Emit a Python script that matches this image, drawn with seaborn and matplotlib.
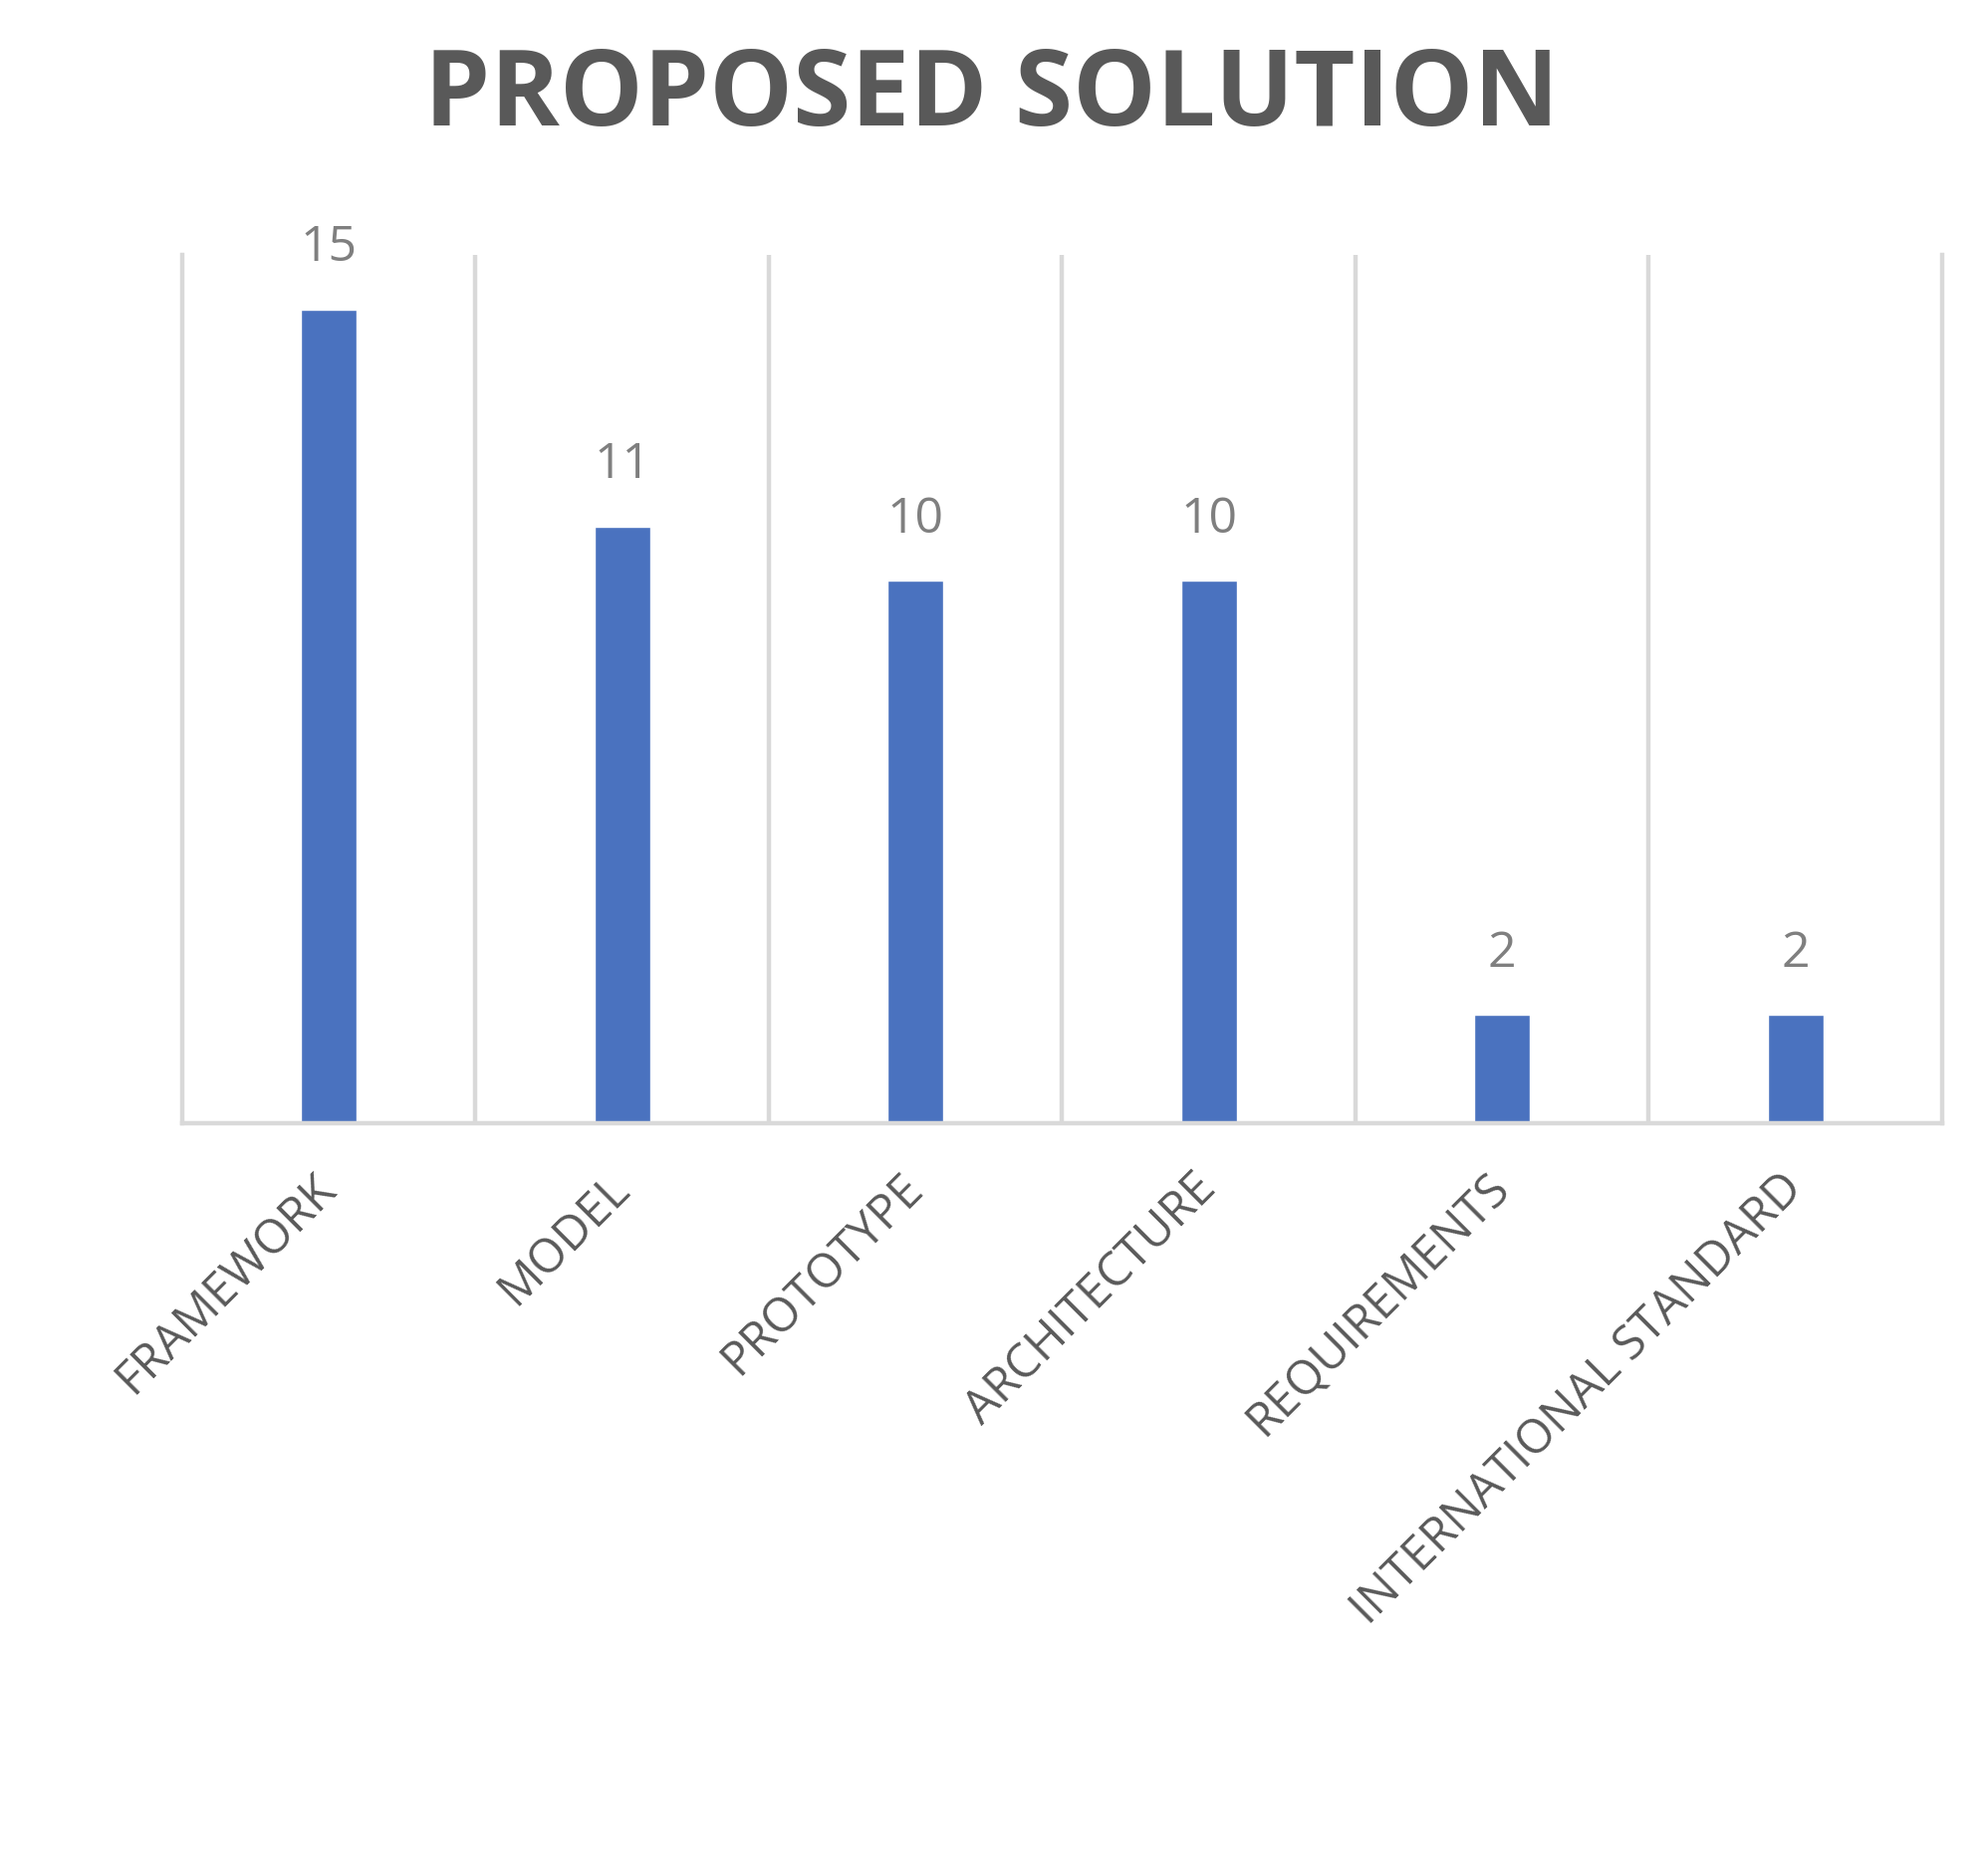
import matplotlib
matplotlib.use("Agg")
import matplotlib.pyplot as plt
import numpy as np
import pandas as pd
import seaborn as sns

# ── Data ──────────────────────────────────────────────────────────────────────
categories = ["FRAMEWORK", "MODEL", "PROTOTYPE", "ARCHITECTURE",
              "REQUIREMENTS", "INTERNATIONAL STANDARD"]
counts = [15, 11, 10, 10, 2, 2]
title = "PROPOSED SOLUTION"

# ── Style ─────────────────────────────────────────────────────────────────────
sns.set_theme(style="white")
plt.rcParams["font.family"] = ["Open Sans", "DejaVu Sans"]
BAR_BLUE = "#4A72BF"
GRID_GREY = "#D9D9D9"
TEXT_GREY = "#595959"
LABEL_GREY = "#7F7F7F"

df = pd.DataFrame({"category": categories, "count": counts})

fig = plt.figure(figsize=(19.93, 18.84), dpi=100)
ax = fig.add_axes([0.0918, 0.4013, 0.8866, 0.4628])

sns.barplot(data=df, x="category", y="count", color=BAR_BLUE, saturation=1,
            width=0.19, ax=ax, order=categories)

ax.set_xlim(-0.5, len(categories) - 0.5)
ax.set_ylim(0, 16)
ax.set_yticks([])
ax.set_xlabel("")
ax.set_ylabel("")

# category boundaries as vertical grid lines
ax.set_xticks(np.arange(0.5, len(categories) - 0.5, 1), minor=True)
ax.grid(which="minor", axis="x", color=GRID_GREY, lw=3.2)
ax.tick_params(axis="x", which="both", length=0)
ax.set_axisbelow(True)
for side in ["left", "right", "bottom"]:
    ax.spines[side].set_visible(True)
    ax.spines[side].set_color(GRID_GREY)
    ax.spines[side].set_linewidth(3.2)
ax.spines["top"].set_visible(False)

ax.tick_params(axis="x", which="major", pad=42)
for lbl in ax.get_xticklabels():
    lbl.set_rotation(45)
    lbl.set_ha("right")
    lbl.set_va("center")
    lbl.set_rotation_mode("anchor")
    lbl.set_fontsize(34)
    lbl.set_color(TEXT_GREY)

ax.bar_label(ax.containers[0], labels=[str(v) for v in counts], padding=26,
             fontsize=36, color=LABEL_GREY)

fig.text(0.4997, 0.933, title, ha="center", va="baseline",
         fontsize=76, fontweight="bold", color=TEXT_GREY)

fig.savefig("out.png", dpi=100, facecolor="white")
plt.close(fig)
